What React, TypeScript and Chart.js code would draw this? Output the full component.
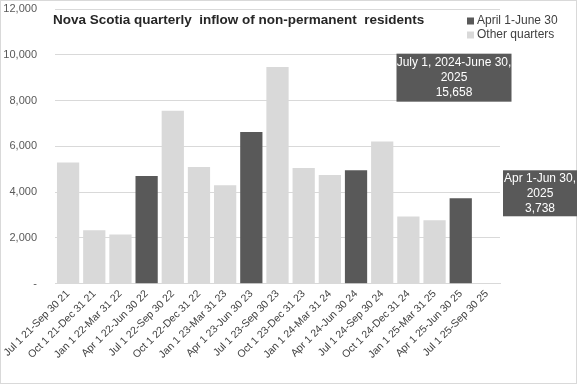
import React, { useEffect, useRef } from "react";
import { Chart, registerables, CategoryScale } from "chart.js";

Chart.register(...registerables);

class FlatCategoryScale extends (CategoryScale as any) {
  static id = "flatCategory";
  static defaults = (CategoryScale as any).defaults;
  _calculatePadding(...args: any[]) {
    super._calculatePadding(...args);
    this.paddingLeft = 0;
    this.paddingRight = 0;
  }
}
Chart.register(FlatCategoryScale as any);

const categories = [
  "Jul 1 21-Sep 30 21",
  "Oct 1 21-Dec 31 21",
  "Jan 1 22-Mar 31 22",
  "Apr 1 22-Jun 30 22",
  "Jul 1 22-Sep 30 22",
  "Oct 1 22-Dec 31 22",
  "Jan 1 23-Mar 31 23",
  "Apr 1 23-Jun 30 23",
  "Jul 1 23-Sep 30 23",
  "Oct 1 23-Dec 31 23",
  "Jan 1 24-Mar 31 24",
  "Apr 1 24-Jun 30 24",
  "Jul 1 24-Sep 30 24",
  "Oct 1 24-Dec 31 24",
  "Jan 1 25-Mar 31 25",
  "Apr 1 25-Jun 30 25",
  "Jul 1 25-Sep 30 25",
];

const aprilJuneValues = [null, null, null, 4700, null, null, null, 6630, null, null, null, 4960, null, null, null, 3738, null];
const otherQuarterValues = [5300, 2330, 2150, null, 7550, 5100, 4300, null, 9470, 5050, 4750, null, 6210, 2940, 2770, null, null];

const seriesNames = ["April 1-June 30", "Other quarters"];
const seriesColors = ["#595959", "#d9d9d9"];

const yTicks = [0, 2000, 4000, 6000, 8000, 10000, 12000];

const titleText = "Nova Scotia quarterly  inflow of non-permanent  residents";
const annualLabelLines = ["July 1, 2024-June 30,", "2025"];
const annualTotal = 15658;
const lastQuarterLabelLines = ["Apr 1-Jun 30,", "2025"];
const lastQuarterValue = 3738;

const FONT = "'Liberation Sans', Arial, sans-serif";

const fmt = (v: number) => (v === 0 ? "-" : v.toLocaleString("en-US"));

const decorPlugin = {
  id: "decor",
  beforeDraw(chart: any) {
    const ctx = chart.ctx;
    ctx.save();
    ctx.fillStyle = "#ffffff";
    ctx.fillRect(0, 0, chart.width, chart.height);
    ctx.strokeStyle = "#d9d9d9";
    ctx.lineWidth = 1;
    ctx.strokeRect(0.5, 0.5, chart.width - 1, chart.height - 1);
    ctx.restore();
  },
  afterDraw(chart: any) {
    const ctx = chart.ctx;
    const area = chart.chartArea;
    const y = chart.scales.y;
    ctx.save();
    // title
    ctx.fillStyle = "#262626";
    ctx.font = `bold 13.5px ${FONT}`;
    ctx.textBaseline = "middle";
    ctx.textAlign = "left";
    ctx.fillText(titleText, area.left - 2, 20);

    // legend
    ctx.font = `12px ${FONT}`;
    seriesNames.forEach((name, i) => {
      const ly = 21 + i * 14;
      ctx.fillStyle = seriesColors[i];
      ctx.fillRect(467, ly - 3.5, 7, 7);
      ctx.fillStyle = "#404040";
      ctx.fillText(name, 477, ly);
    });

    // annotation boxes
    const drawBox = (cx: number, cy: number, w: number, h: number, lines: string[]) => {
      ctx.fillStyle = "#595959";
      ctx.fillRect(cx - w / 2, cy - h / 2, w, h);
      ctx.fillStyle = "#ffffff";
      ctx.font = `12px ${FONT}`;
      ctx.textAlign = "center";
      ctx.textBaseline = "middle";
      const lh = 15;
      lines.forEach((t, i) => {
        ctx.fillText(t, cx, cy + (i - (lines.length - 1) / 2) * lh);
      });
    };
    drawBox(area.right - 46, y.getPixelForValue(9000), 115, 48, [
      ...annualLabelLines,
      annualTotal.toLocaleString("en-US"),
    ]);
    drawBox(area.right + 40, y.getPixelForValue(3950), 74, 46, [
      ...lastQuarterLabelLines,
      lastQuarterValue.toLocaleString("en-US"),
    ]);
    ctx.restore();
  },
};

export default function App() {
  const ref = useRef<HTMLCanvasElement>(null);
  useEffect(() => {
    document.body.style.margin = "0";
    const chart = new Chart(ref.current!, {
      type: "bar",
      data: {
        labels: categories,
        datasets: [
          {
            label: seriesNames[0],
            data: aprilJuneValues,
            backgroundColor: seriesColors[0],
            categoryPercentage: 1,
            barPercentage: 0.85,
          },
          {
            label: seriesNames[1],
            data: otherQuarterValues,
            backgroundColor: seriesColors[1],
            categoryPercentage: 1,
            barPercentage: 0.85,
          },
        ],
      },
      options: {
        animation: false,
        responsive: false,
        maintainAspectRatio: false,
        layout: { padding: { left: 0, right: 77, top: 9, bottom: 19 } },
        plugins: {
          legend: { display: false },
          title: { display: false },
          tooltip: { enabled: false },
        },
        scales: {
          x: {
            type: "flatCategory" as any,
            stacked: true,
            grid: { display: false, drawTicks: false },
            border: { color: "#d9d9d9" },
            ticks: {
              color: "#404040",
              font: { family: FONT, size: 10.5 },
              minRotation: 45,
              maxRotation: 45,
              padding: 4,
              autoSkip: false,
            },
          },
          y: {
            stacked: true,
            min: 0,
            max: 12000,
            afterBuildTicks: (axis: any) => {
              axis.ticks = yTicks.map((v) => ({ value: v }));
            },
            afterFit: (axis: any) => {
              axis.paddingTop = 0;
              axis.paddingBottom = 0;
              axis.width = 55;
            },
            grid: { color: "#d9d9d9", drawTicks: false },
            border: { display: false },
            ticks: {
              color: "#595959",
              font: { family: FONT, size: 11 },
              padding: 18,
              callback: (v: any) => fmt(Number(v)),
            },
          },
        },
      } as any,
      plugins: [decorPlugin],
    });
    return () => chart.destroy();
  }, []);
  return (
    <div style={{ width: 577, height: 384 }}>
      <canvas ref={ref} width={577} height={384} style={{ display: "block" }} />
    </div>
  );
}
